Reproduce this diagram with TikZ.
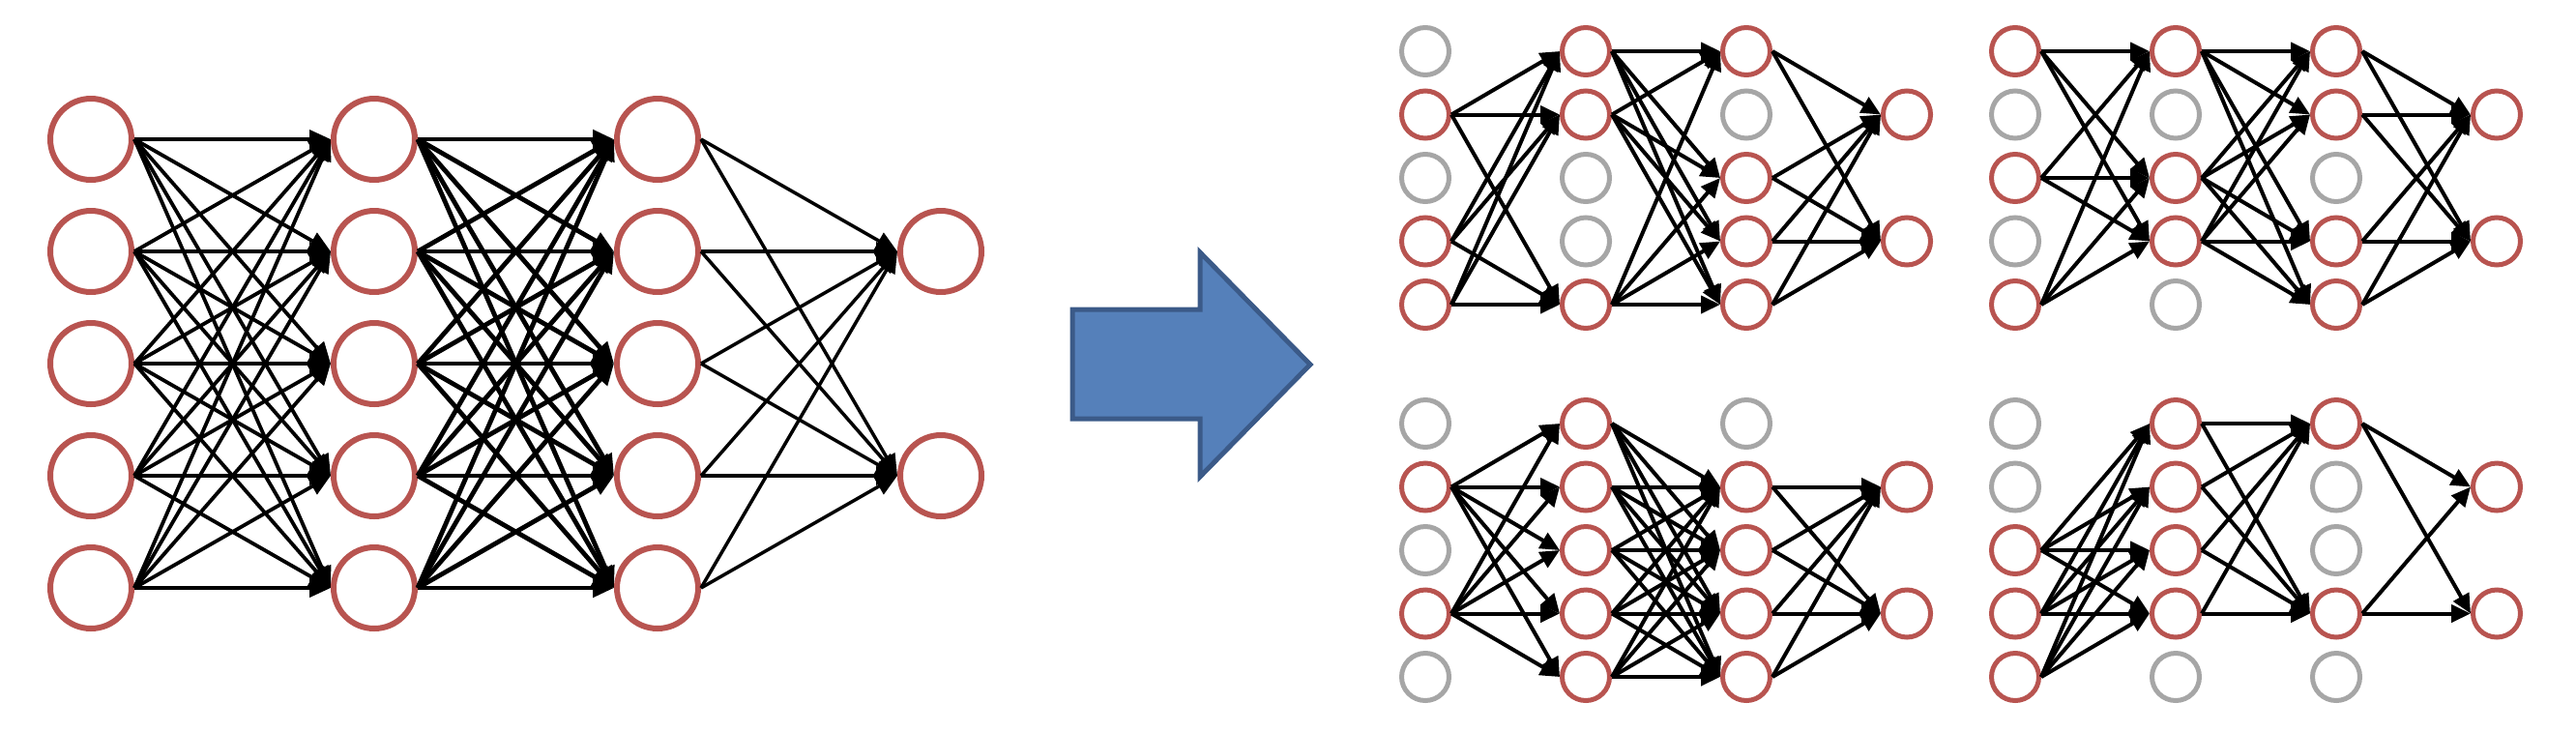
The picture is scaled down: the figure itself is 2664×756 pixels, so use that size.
\documentclass[tikz,border=0pt]{standalone}
\usetikzlibrary{arrows.meta}
\definecolor{nred}{HTML}{B85450}
\definecolor{ngray}{HTML}{A6A6A6}
\definecolor{afill}{HTML}{5580BA}
\definecolor{aline}{HTML}{3B5A88}
\tikzset{
  bign/.style={circle, draw=nred, line width=6pt, minimum size=84pt, inner sep=0pt},
  smn/.style={circle, draw=nred, line width=5pt, minimum size=49pt, inner sep=0pt},
  smoff/.style={smn, draw=ngray},
  bedge/.style={line width=#1, -{Triangle[length=22pt,width=19pt]}},
  sedge/.style={line width=4pt, -{Triangle[length=20pt,width=18pt]}},
  bigarrow/.style={fill=afill, draw=aline, line width=5pt, line join=miter}
}
\begin{document}
\begin{tikzpicture}[x=1pt,y=-1pt]
\useasboundingbox (0,0) rectangle (2664,756);
% ---------- big network ----------
\foreach \l/\xx in {1/94,2/387,3/680}
  \foreach \i in {1,...,5}
    \node[bign] (B-\l-\i) at (\xx,{144+116*(\i-1)}) {};
\node[bign] (B-4-1) at (973,260) {};
\node[bign] (B-4-2) at (973,492) {};
\foreach \i in {1,...,5}{
  \foreach \j in {1,...,5}{
    \draw[bedge=3.8pt] (B-1-\i.east) -- (B-2-\j.west);
    \draw[bedge=4.8pt] (B-2-\i.east) -- (B-3-\j.west);
  }
  \foreach \j in {1,2}
    \draw[bedge=3.5pt] (B-3-\i.east) -- (B-4-\j.west);
}
% ---------- block arrow ----------
\draw[bigarrow] (1109,320) -- (1241,320) -- (1241,261) -- (1355,377)
  -- (1241,493) -- (1241,433) -- (1109,433) -- cycle;
% ---------- top-left ----------
\begin{scope}[shift={(1474,53)}]
  \foreach \i in {2,4,5} \node[smn] (TL-1-\i) at (0,{65.5*(\i-1)}) {};
  \foreach \i in {1,3} \node[smoff] (TL-1-\i) at (0,{65.5*(\i-1)}) {};
  \foreach \i in {1,2,5} \node[smn] (TL-2-\i) at (166,{65.5*(\i-1)}) {};
  \foreach \i in {3,4} \node[smoff] (TL-2-\i) at (166,{65.5*(\i-1)}) {};
  \foreach \i in {1,3,4,5} \node[smn] (TL-3-\i) at (332,{65.5*(\i-1)}) {};
  \foreach \i in {2} \node[smoff] (TL-3-\i) at (332,{65.5*(\i-1)}) {};
  \node[smn] (TL-4-1) at (498,65.5) {};
  \node[smn] (TL-4-2) at (498,196.5) {};
\end{scope}
\foreach \i in {2,4,5} \foreach \j in {1,2,5} \draw[sedge] (TL-1-\i.east) -- (TL-2-\j.west);
\foreach \i in {1,2,5} \foreach \j in {1,3,4,5} \draw[sedge] (TL-2-\i.east) -- (TL-3-\j.west);
\foreach \i in {1,3,4,5} \foreach \j in {1,2} \draw[sedge] (TL-3-\i.east) -- (TL-4-\j.west);
% ---------- top-right ----------
\begin{scope}[shift={(2084,53)}]
  \foreach \i in {1,3,5} \node[smn] (TR-1-\i) at (0,{65.5*(\i-1)}) {};
  \foreach \i in {2,4} \node[smoff] (TR-1-\i) at (0,{65.5*(\i-1)}) {};
  \foreach \i in {1,3,4} \node[smn] (TR-2-\i) at (166,{65.5*(\i-1)}) {};
  \foreach \i in {2,5} \node[smoff] (TR-2-\i) at (166,{65.5*(\i-1)}) {};
  \foreach \i in {1,2,4,5} \node[smn] (TR-3-\i) at (332,{65.5*(\i-1)}) {};
  \foreach \i in {3} \node[smoff] (TR-3-\i) at (332,{65.5*(\i-1)}) {};
  \node[smn] (TR-4-1) at (498,65.5) {};
  \node[smn] (TR-4-2) at (498,196.5) {};
\end{scope}
\foreach \i in {1,3,5} \foreach \j in {1,3,4} \draw[sedge] (TR-1-\i.east) -- (TR-2-\j.west);
\foreach \i in {1,3,4} \foreach \j in {1,2,4,5} \draw[sedge] (TR-2-\i.east) -- (TR-3-\j.west);
\foreach \i in {1,2,4,5} \foreach \j in {1,2} \draw[sedge] (TR-3-\i.east) -- (TR-4-\j.west);
% ---------- bottom-left ----------
\begin{scope}[shift={(1474,438)}]
  \foreach \i in {2,4} \node[smn] (BL-1-\i) at (0,{65.5*(\i-1)}) {};
  \foreach \i in {1,3,5} \node[smoff] (BL-1-\i) at (0,{65.5*(\i-1)}) {};
  \foreach \i in {1,...,5} \node[smn] (BL-2-\i) at (166,{65.5*(\i-1)}) {};
  \foreach \i in {2,3,4,5} \node[smn] (BL-3-\i) at (332,{65.5*(\i-1)}) {};
  \foreach \i in {1} \node[smoff] (BL-3-\i) at (332,{65.5*(\i-1)}) {};
  \node[smn] (BL-4-1) at (498,65.5) {};
  \node[smn] (BL-4-2) at (498,196.5) {};
\end{scope}
\foreach \i in {2,4} \foreach \j in {1,...,5} \draw[sedge] (BL-1-\i.east) -- (BL-2-\j.west);
\foreach \i in {1,...,5} \foreach \j in {2,3,4,5} \draw[sedge] (BL-2-\i.east) -- (BL-3-\j.west);
\foreach \i in {2,3,4,5} \foreach \j in {1,2} \draw[sedge] (BL-3-\i.east) -- (BL-4-\j.west);
% ---------- bottom-right ----------
\begin{scope}[shift={(2084,438)}]
  \foreach \i in {3,4,5} \node[smn] (BR-1-\i) at (0,{65.5*(\i-1)}) {};
  \foreach \i in {1,2} \node[smoff] (BR-1-\i) at (0,{65.5*(\i-1)}) {};
  \foreach \i in {1,2,3,4} \node[smn] (BR-2-\i) at (166,{65.5*(\i-1)}) {};
  \foreach \i in {5} \node[smoff] (BR-2-\i) at (166,{65.5*(\i-1)}) {};
  \foreach \i in {1,4} \node[smn] (BR-3-\i) at (332,{65.5*(\i-1)}) {};
  \foreach \i in {2,3,5} \node[smoff] (BR-3-\i) at (332,{65.5*(\i-1)}) {};
  \node[smn] (BR-4-1) at (498,65.5) {};
  \node[smn] (BR-4-2) at (498,196.5) {};
\end{scope}
\foreach \i in {3,4,5} \foreach \j in {1,2,3,4} \draw[sedge] (BR-1-\i.east) -- (BR-2-\j.west);
\foreach \i in {1,2,3,4} \foreach \j in {1,4} \draw[sedge] (BR-2-\i.east) -- (BR-3-\j.west);
\foreach \i in {1,4} \foreach \j in {1,2} \draw[sedge] (BR-3-\i.east) -- (BR-4-\j.west);
\end{tikzpicture}
\end{document}
